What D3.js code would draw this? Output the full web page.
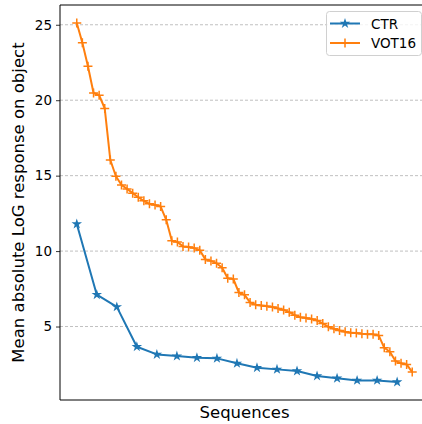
<!DOCTYPE html>
<html>
<head>
<meta charset="utf-8">
<style>
  body { margin: 0; background: #fff; }
  text { font-family: "DejaVu Sans", sans-serif; }
</style>
</head>
<body>
<svg width="422" height="424"></svg>
<script src="https://cdn.jsdelivr.net/npm/d3@7"></script>
<script>

var ctr = [11.79, 7.11, 6.30, 3.66, 3.15, 3.04, 2.93, 2.89, 2.56, 2.27, 2.16,
           2.05, 1.72, 1.57, 1.43, 1.43, 1.32];

var vot16 = [25.12, 23.81, 22.25, 20.48, 20.33, 19.45, 16.04, 14.96, 14.38, 14.12,
             13.84, 13.57, 13.33, 13.13, 13.06, 12.95, 12.07, 10.68, 10.60, 10.31,
             10.27, 10.20, 10.05, 9.45, 9.35, 9.20, 8.90, 8.20, 8.15, 7.25,
             7.10, 6.60, 6.45, 6.40, 6.35, 6.30, 6.20, 6.10, 5.95, 5.75,
             5.62, 5.57, 5.50, 5.40, 5.20, 4.98, 4.85, 4.74, 4.65, 4.58,
             4.57, 4.52, 4.49, 4.48, 4.41, 3.59, 3.33, 2.71, 2.56, 2.49, 1.98];

var yTicks = [5, 10, 15, 20, 25];
var seriesNames = ["CTR", "VOT16"];
var colors = ["#1f77b4", "#ff7f0e"];

var svg = d3.select("svg"),
    margin = {top: 5, right: -7, bottom: 24, left: 60},
    width = +svg.attr("width") - margin.left - margin.right,
    height = +svg.attr("height") - margin.top - margin.bottom,
    g = svg.append("g").attr("transform", "translate(" + margin.left + "," + margin.top + ")");

// x in VOT16 index units, 5% padding like matplotlib
var n = vot16.length - 1;
var x = d3.scaleLinear()
    .domain([-0.05 * n, n * 1.05])
    .range([0, width]);

// CTR sequences sit on their own index axis, ending a bit before VOT16
var xc = d3.scaleLinear()
    .domain([0, ctr.length - 1])
    .range([x(0), x(n * 0.955)]);

var all = ctr.concat(vot16),
    lo = d3.min(all), hi = d3.max(all), pad = (hi - lo) * 0.05;
var y = d3.scaleLinear()
    .domain([lo - pad, hi + pad])
    .range([height, 0]);

// grid
g.append("g")
  .selectAll("line")
  .data(yTicks)
  .enter().append("line")
    .attr("x1", 0)
    .attr("x2", width)
    .attr("y1", function(d) { return y(d); })
    .attr("y2", function(d) { return y(d); })
    .attr("stroke", "#b0b0b0")
    .attr("stroke-width", 0.8)
    .attr("stroke-dasharray", "3,2");

// y axis
var yAxis = g.append("g")
    .call(d3.axisLeft(y).tickValues(yTicks).tickSize(4).tickPadding(4));
yAxis.select(".domain").remove();
yAxis.selectAll("line").attr("stroke", "#000").attr("stroke-width", 0.8);
yAxis.selectAll("text")
    .attr("fill", "#000")
    .style("font-size", "13.5px")
    .style("font-family", "DejaVu Sans");

// spines
g.append("line").attr("x1", 0).attr("x2", 0).attr("y1", 0).attr("y2", height)
    .attr("stroke", "#000").attr("stroke-width", 1);
g.append("line").attr("x1", 0).attr("x2", width).attr("y1", 0).attr("y2", 0)
    .attr("stroke", "#000").attr("stroke-width", 1);
g.append("line").attr("x1", 0).attr("x2", width).attr("y1", height).attr("y2", height)
    .attr("stroke", "#000").attr("stroke-width", 1);

var star = d3.symbol().type(d3.symbolStar).size(34);
var plus = "M-4.5,0H4.5M0,-4.5V4.5";

// CTR
g.append("path")
    .datum(ctr)
    .attr("fill", "none")
    .attr("stroke", colors[0])
    .attr("stroke-width", 2)
    .attr("stroke-linejoin", "round")
    .attr("d", d3.line()
        .x(function(d, i) { return xc(i); })
        .y(function(d) { return y(d); }));

g.append("g").selectAll("path")
    .data(ctr)
    .enter().append("path")
      .attr("transform", function(d, i) { return "translate(" + xc(i) + "," + y(d) + ")"; })
      .attr("d", star)
      .attr("fill", colors[0]);

// VOT16
g.append("path")
    .datum(vot16)
    .attr("fill", "none")
    .attr("stroke", colors[1])
    .attr("stroke-width", 2)
    .attr("stroke-linejoin", "round")
    .attr("d", d3.line()
        .x(function(d, i) { return x(i); })
        .y(function(d) { return y(d); }));

g.append("g").selectAll("path")
    .data(vot16)
    .enter().append("path")
      .attr("transform", function(d, i) { return "translate(" + x(i) + "," + y(d) + ")"; })
      .attr("d", plus)
      .attr("fill", "none")
      .attr("stroke", colors[1])
      .attr("stroke-width", 1.5);

// axis labels
svg.append("text")
    .attr("x", margin.left + width / 2)
    .attr("y", 418)
    .attr("text-anchor", "middle")
    .style("font-size", "16.5px")
    .text("Sequences");

svg.append("text")
    .attr("transform", "translate(24," + (margin.top + height / 2) + ") rotate(-90)")
    .attr("text-anchor", "middle")
    .style("font-size", "16.5px")
    .text("Mean absolute LoG response on object");

// legend
var legend = svg.append("g").attr("transform", "translate(326,11)");
legend.append("rect")
    .attr("x", 0.5).attr("y", 0.5)
    .attr("width", 95).attr("height", 44)
    .attr("rx", 3)
    .attr("fill", "#fff")
    .attr("fill-opacity", 0.8)
    .attr("stroke", "#d0d0d0")
    .attr("stroke-width", 1);

seriesNames.forEach(function(name, i) {
  var row = legend.append("g").attr("transform", "translate(0," + (12.5 + i * 19.5) + ")");
  row.append("line")
      .attr("x1", 4).attr("x2", 34)
      .attr("stroke", colors[i])
      .attr("stroke-width", 2);
  if (i === 0) {
    row.append("path").attr("transform", "translate(19,0)").attr("d", star).attr("fill", colors[0]);
  } else {
    row.append("path").attr("transform", "translate(19,0)").attr("d", plus)
        .attr("stroke", colors[1]).attr("stroke-width", 1.5);
  }
  row.append("text")
      .attr("x", 45)
      .attr("y", 5)
      .style("font-size", "13.5px")
      .text(name);
});

</script>
</body>
</html>
